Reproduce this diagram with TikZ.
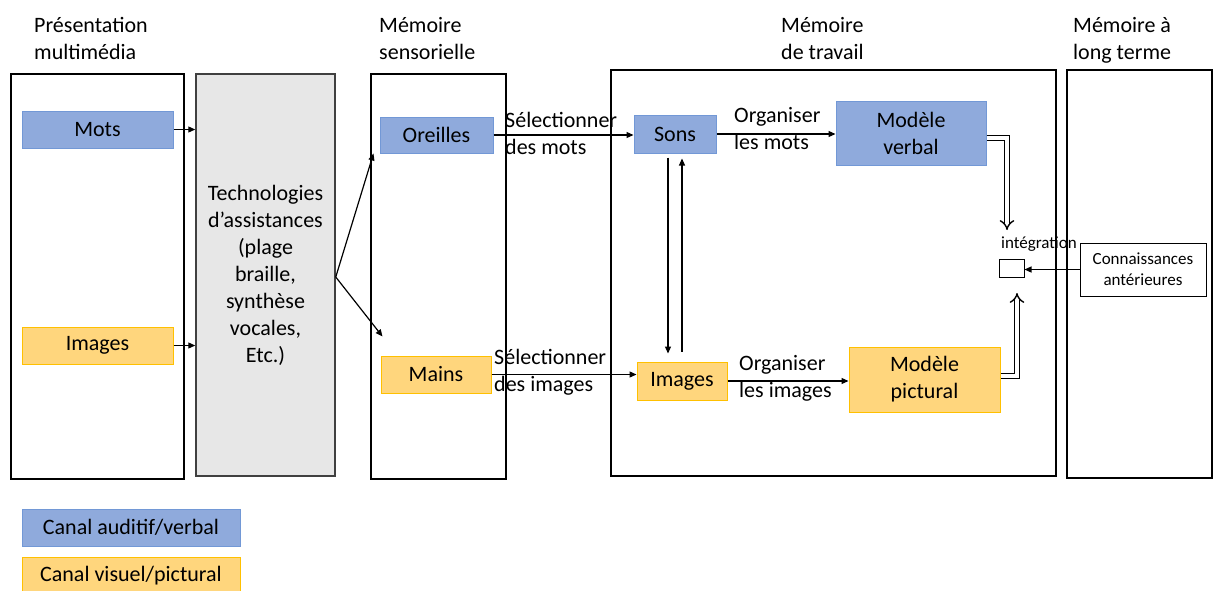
\documentclass[tikz,border=0pt]{standalone}
\usepackage{fontspec}
\setmainfont{Carlito}
\usetikzlibrary{arrows.meta}
\definecolor{bleufond}{RGB}{143,170,220}
\definecolor{bleutrait}{RGB}{114,152,214}
\definecolor{orfond}{RGB}{255,214,125}
\definecolor{ortrait}{RGB}{255,192,0}
\definecolor{grisfond}{RGB}{231,231,231}
\begin{document}
\begin{tikzpicture}
[
x=1pt, y=-1pt,
font=\fontsize{22}{27}\selectfont,
cadre/.style={draw=black, line width=1.3pt, inner sep=0},
techcadre/.style={draw=black!75, fill=grisfond, line width=1.5pt, inner sep=0, align=center},
bleu/.style={draw=bleutrait, fill=bleufond, line width=1pt, inner sep=0, align=center},
orange/.style={draw=ortrait, fill=orfond, line width=1pt, inner sep=0, align=center},
titre/.style={anchor=north west, align=left, inner sep=0},
etiq/.style={anchor=north west, align=left, inner sep=0},
petit/.style={font=\fontsize{17}{21}\selectfont},
fleche/.style={-{Triangle[length=7pt,width=6pt]}, line width=1.2pt},
dfleche/.style={double, double distance=3.6pt, line width=1.4pt, -{Implies}}
]
\useasboundingbox (0,0) rectangle (1219,590);
\clip (0,0) rectangle (1219,590);
%Titres
\node[titre] at(34,17)		(tpres) {Présentation\\multimédia};
\node[titre] at(379,17)		(tsens) {Mémoire\\sensorielle};
\node[titre] at(781,17)		(ttrav) {Mémoire\\de travail};
\node[titre] at(1073,17)	(tlong) {Mémoire à\\long terme};
%Cadres
\node[cadre, minimum width=173, minimum height=405] at(97.5,276.5)	(pres) {};
\node[techcadre, minimum width=139, minimum height=402] at(265.5,275)	(tech) {Technologies\\d’assistances\\(plage\\braille,\\synthèse\\vocales,\\Etc.)};
\node[cadre, minimum width=135, minimum height=405] at(438.5,276.5)	(sens) {};
\node[cadre, minimum width=445, minimum height=406] at(833.5,273)	(trav) {};
\node[cadre, minimum width=145, minimum height=408] at(1139.5,274)	(long) {};
%Nodes
\node[bleu, minimum width=151, minimum height=37] at(97.5,129.5)	(mots) {Mots};
\node[orange, minimum width=151, minimum height=37] at(97.5,345.5)	(images) {Images};
\node[bleu, minimum width=113, minimum height=36] at(436.5,135)	(oreilles) {Oreilles};
\node[orange, minimum width=110, minimum height=37] at(436,374.5)	(mains) {Mains};
\node[bleu, minimum width=82, minimum height=38] at(675,134)		(sons) {Sons};
\node[orange, minimum width=90, minimum height=38] at(682,381)		(imgtrav) {Images};
\node[bleu, minimum width=150, minimum height=64] at(911,133)		(verbal) {Modèle\\verbal};
\node[orange, minimum width=151, minimum height=65] at(924.5,379.5)	(pictural) {Modèle\\pictural};
\node[cadre, line width=1pt, minimum width=25, minimum height=18] at(1011.5,268)	(integ) {};
\node[cadre, line width=1pt, minimum width=126, minimum height=53, petit, align=center] at(1143,269.5)	(connais) {Connaissances\\antérieures};
\node[petit, anchor=west, inner sep=0] at(1001,244)	(lint) {intégration};
%Legende
\node[bleu, minimum width=218, minimum height=37] at(131,527.5)		(leg1) {Canal auditif/verbal};
\node[orange, minimum width=218, minimum height=37] at(131,575.5)	(leg2) {Canal visuel/pictural};
%Etiquettes
\node[etiq] at(505,112)		(e1) {Sélectionner\\des mots};
\node[etiq] at(734,107)		(e2) {Organiser\\les mots};
\node[etiq] at(494,349)		(e3) {Sélectionner\\des images};
\node[etiq] at(739,355)		(e4) {Organiser\\les images};
%Points
\coordinate (vo) at ([xshift=-6pt]oreilles.south west);
\coordinate (vm) at ([xshift=2pt,yshift=19pt]mains.north west);
\coordinate (itop) at (1007,230);
\coordinate (ibot) at (1017,293);
%Fleches
\draw[fleche] (mots.east) -- (mots.east -| tech.west);
\draw[fleche] (images.east) -- (images.east -| tech.west);
\draw[fleche] ([yshift=-2pt]tech.east) -- (vo);
\draw[fleche] ([yshift=-2pt]tech.east) -- (vm);
\draw[fleche] (oreilles.east) -- (oreilles.east -| sons.west);
\draw[fleche] (sons.east) -- (sons.east -| verbal.west);
\draw[fleche] (mains.east) -- (mains.east -| imgtrav.west);
\draw[fleche] (imgtrav.east) -- (imgtrav.east -| pictural.west);
\draw[fleche, shorten <=4pt, shorten >=8pt] ([xshift=-7pt]sons.south) -- ([xshift=-7pt]sons.south |- imgtrav.north);
\draw[fleche, shorten <=10pt, shorten >=5pt] (imgtrav.north) -- (imgtrav.north |- sons.south);
\draw[fleche] (connais.west) -- (connais.west -| integ.east);
\draw[dfleche] ([yshift=-5pt]verbal.east) -| (itop);
\draw[dfleche] ([yshift=3.5pt]pictural.east) -| (ibot);
\end{tikzpicture}
\end{document}
